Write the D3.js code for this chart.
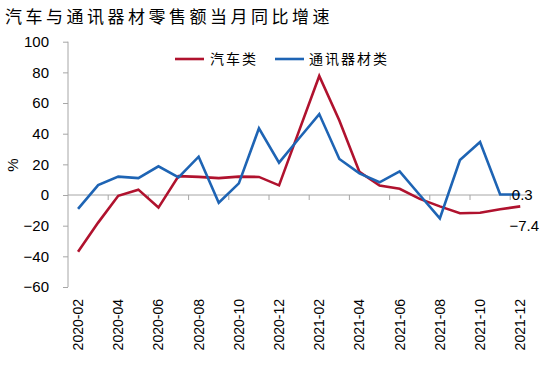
<!DOCTYPE html>
<html><head><meta charset="utf-8">
<script src="https://cdn.jsdelivr.net/npm/d3@7"></script>
<style>body{margin:0;background:#fff}svg{display:block}</style>
</head><body>
<svg id="c" width="543" height="367"></svg>
<script>
const months = ["2020-02","2020-03","2020-04","2020-05","2020-06","2020-07","2020-08","2020-09","2020-10","2020-11","2020-12","2021-01","2021-02","2021-03","2021-04","2021-05","2021-06","2021-07","2021-08","2021-09","2021-10","2021-11","2021-12"];
const autoVals = [-37.0,-18.0,-0.5,3.5,-8.2,12.3,11.8,11.0,12.0,11.8,6.3,42.0,77.6,48.6,15.1,6.2,4.1,-2.5,-7.4,-11.9,-11.6,-9.3,-7.4];
const telecomVals = [-9.0,6.5,12.0,11.0,18.7,11.5,25.0,-5.0,7.6,43.5,21.1,37.0,52.8,23.5,14.1,8.3,15.4,0.0,-15.2,22.8,34.6,0.3,0.3];
const yTicks = [-60,-40,-20,0,20,40,60,80,100];
const seriesNames = ["汽车类","通讯器材类"];
const colors = ["#B0122E","#1E64B4"];
const title = "汽车与通讯器材零售额当月同比增速";

const svg = d3.select("#c");
const x = d3.scaleBand().domain(months).range([68, 530.3]);
const y = d3.scaleLinear().domain([-60,100]).range([287, 41.7]);
const cx = m => x(m) + x.bandwidth()/2;
const axisColor = "#a6a6a6";
const numFont = "'Liberation Sans', Arial, sans-serif";
const cjkFont = "'Noto Sans CJK SC', sans-serif";

// title
svg.append("text").attr("x",5).attr("y",23).attr("font-family",cjkFont)
  .attr("font-size",17).attr("letter-spacing","3.5px").attr("fill","#000").text(title);

// y axis
const ya = svg.append("g").attr("transform","translate(68,0)")
  .call(d3.axisLeft(y).tickValues(yTicks).tickSize(5).tickPadding(14).tickFormat(d3.format("d")));
ya.select(".domain").attr("stroke",axisColor).attr("d",`M0,${y(100)}V${y(-60)}`);
ya.selectAll(".tick line").attr("stroke",axisColor);
ya.selectAll(".tick text").attr("font-family",numFont).attr("font-size",15).attr("fill","#000");

// % label
svg.append("text").attr("transform","translate(18,165) rotate(-90)").attr("text-anchor","middle")
  .attr("font-family",numFont).attr("font-size",15).attr("fill","#000").text("%");

// x axis line at 0 with ticks at every 2nd category boundary
const xa = svg.append("g");
xa.append("line").attr("x1",68).attr("x2",530.3).attr("y1",y(0)).attr("y2",y(0)).attr("stroke",axisColor);
months.forEach((m,i)=>{
  if(i%2===0 && i>0){
    const bx = x(m);
    xa.append("line").attr("x1",bx).attr("x2",bx).attr("y1",y(0)).attr("y2",y(0)+5).attr("stroke",axisColor);
  }
});
// x labels at bottom
months.forEach((m,i)=>{
  if(i%2===0){
    svg.append("text").attr("transform",`translate(${cx(m)+5},${y(-60)+12}) rotate(-90)`)
      .attr("text-anchor","end").attr("font-family",numFont).attr("font-size",14).attr("fill","#000").text(m);
  }
});

// lines
const line = d3.line().x((d,i)=>cx(months[i])).y(d=>y(d));
[autoVals, telecomVals].forEach((vals,k)=>{
  svg.append("path").datum(vals).attr("d",line).attr("fill","none")
    .attr("stroke",colors[k]).attr("stroke-width",2.6).attr("stroke-linejoin","miter");
});

// legend
const lg = [{x:175,tx:210},{x:275,tx:309}];
seriesNames.forEach((n,k)=>{
  svg.append("line").attr("x1",lg[k].x).attr("x2",lg[k].x+29).attr("y1",59).attr("y2",59)
    .attr("stroke",colors[k]).attr("stroke-width",2.6);
  svg.append("text").attr("x",lg[k].tx).attr("y",64).attr("font-family",cjkFont).attr("font-size",14)
    .attr("letter-spacing","2px").attr("fill","#000").text(n);
});

// end labels
const last = months[months.length-1];
svg.append("text").attr("x",cx(last)+2).attr("y",y(telecomVals[telecomVals.length-1])).attr("dy","0.36em")
  .attr("text-anchor","middle").attr("font-family",numFont).attr("font-size",15).attr("fill","#000")
  .text(d3.format(".1f")(telecomVals[telecomVals.length-1]));
svg.append("text").attr("x",cx(last)+4).attr("y",y(autoVals[autoVals.length-1])+19).attr("dy","0.36em")
  .attr("text-anchor","middle").attr("font-family",numFont).attr("font-size",15).attr("fill","#000")
  .text(d3.format(".1f")(autoVals[autoVals.length-1]));
</script>
</body></html>
